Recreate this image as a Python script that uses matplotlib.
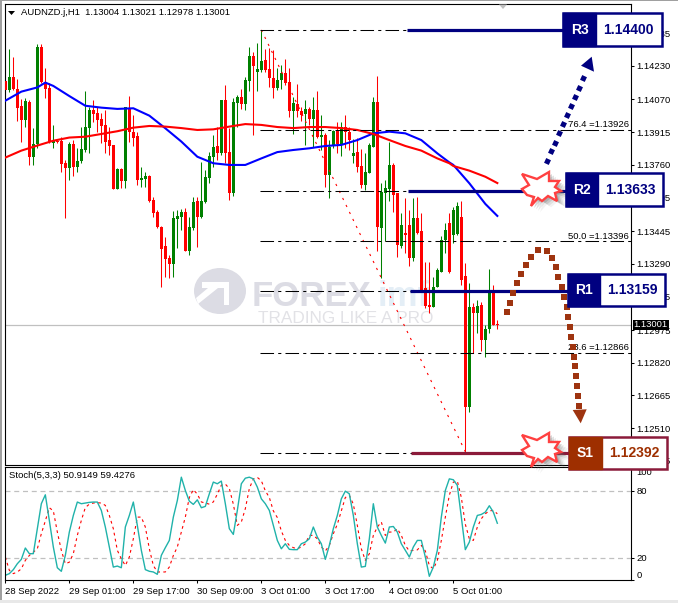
import numpy as np
import matplotlib
matplotlib.use("Agg")
import matplotlib.pyplot as plt
from matplotlib.patches import Rectangle, Polygon, Ellipse

W, H = 678, 603
FONT = "Liberation Sans"
TXT = 6.8

# prices in points (1e-5)
opens = [114157,114115,114175,114118,114039,113972,114059,113798,113858,114320,114151,114123,113865,113874,113874,113770,
         113746,113858,113751,113778,113830,113936,114020,114004,113977,113949,113877,113854,113646,113738,113683,114028,
         113917,113896,113688,113692,113707,113593,113537,113466,113374,113316,113289,113504,113513,113537,113352,113458,
         113588,113510,113585,113699,113798,113849,113814,114067,113822,113627,114055,114083,114048,114157,114276,114202,
         114210,114257,114214,114170,114126,114162,114197,114154,114015,114048,114015,114001,114025,113977,114020,113892,
         113901,113711,113851,113922,113854,113941,113917,113801,113822,113754,113664,113722,113846,114059,113461,113627,
         113645,113759,113627,113374,113434,113474,113319,113506,113447,113173,113094,113086,113181,113252,113403,113482,
         113426,113431,113513,113232,112612,113083,113055,113094,112928,112979,113162,113004]
highs = [114233,114308,114273,114165,114070,114075,114067,113933,114333,114333,114218,114146,113949,113877,113893,113782,
         113870,113877,113838,113941,114110,114033,114067,114036,114004,114020,113941,113854,113743,113743,114036,114088,
         113996,113917,113751,113727,113711,113608,113545,113469,113419,113332,113542,113545,113548,113553,113513,113608,
         113608,113771,113735,113822,113901,113941,114067,114139,113933,114075,114091,114118,114178,114320,114297,114336,
         114400,114308,114313,114305,114218,114233,114260,114218,114083,114143,114036,114067,114036,114080,114112,113996,
         113912,113877,113925,113964,113964,113996,113941,113881,113885,113835,113817,113862,114080,114181,113675,113688,
         113870,113767,113627,113529,113601,113545,113601,113608,113529,113297,113297,113229,113271,113422,113482,113529,
         113561,113585,113588,113292,113197,113102,113118,113110,112999,113265,113189,113021]
lows = [114067,114107,114115,113969,113870,113941,113759,113759,113838,114146,114075,113862,113838,113865,113727,113506,
        113688,113707,113727,113767,113822,113817,113964,113917,113862,113814,113806,113646,113646,113648,113648,113870,
        113851,113664,113656,113656,113585,113513,113458,113181,113229,113224,113229,113363,113450,113352,113332,113450,
        113371,113506,113580,113672,113751,113782,113806,113767,113593,113612,113938,114023,114020,114112,113901,114112,
        114202,114202,114131,114078,114115,114118,114139,113988,113906,113988,113969,113854,113949,113846,113885,113830,
        113656,113604,113838,113814,113803,113838,113830,113767,113727,113648,113640,113719,113846,113349,113221,113396,
        113588,113537,113324,113363,113339,113281,113303,113431,113157,113078,113055,113086,113178,113249,113339,113245,
        113390,113426,113189,112398,112588,112865,112960,112877,112846,112960,112999,112978]
closes = [114115,114178,114118,114031,113972,114063,113798,113858,114320,114151,114118,113870,113877,113870,113763,113746,
          113858,113751,113778,113835,113941,114020,114001,113972,113944,113870,113851,113646,113740,113683,114033,113917,
          113889,113688,113699,113707,113588,113529,113466,113362,113311,113289,113506,113517,113534,113352,113463,113585,
          113513,113588,113703,113801,113846,113814,114067,113817,113627,114059,114080,114048,114162,114276,114229,114213,
          114252,114210,114173,114126,114162,114197,114146,114015,114055,114017,113996,114025,113976,114020,113890,113901,
          113711,113846,113922,113857,113941,113917,113877,113814,113751,113664,113726,113854,114059,113466,113632,113648,
          113759,113616,113379,113474,113425,113319,113506,113438,113165,113089,113086,113181,113260,113403,113450,113252,
          113545,113564,113213,112612,113083,113055,113089,112928,112980,113162,112999,113001]

blue_bars = [0,4,8,10,12,16,20,24,28,32,36,40,44,48,52,56,60,64,68,72,76,80,84,88,92,96,100,104,108,111,112,116,120,123]
blue_ma = [114064,114107,114127,114150,114134,114086,114040,114031,114025,114028,113993,113933,113870,113798,113767,113759,113759,
           113790,113820,113830,113838,113849,113854,113877,113909,113917,113909,113877,113814,113771,113759,113672,113574,113517]
red_bars = [0,4,8,12,16,20,24,28,32,36,40,44,48,52,56,60,64,68,72,76,80,84,88,92,96,100,104,108,111,112,116,120,123]
red_ma = [113794,113827,113851,113874,113889,113893,113906,113919,113936,113944,113941,113934,113925,113928,113941,113953,113949,
          113939,113934,113939,113939,113934,113925,113906,113877,113849,113827,113790,113767,113754,113732,113703,113673]

stoch_main = [4.2,5.7,9.3,14.6,18.5,28.7,23.6,23.6,46,68.4,76.4,53.4,29.6,11,7.8,22.1,43,57.9,69.9,68.4,69,69.6,69.9,69.9,62.4,47.5,
              29.6,11.6,12.5,11,47.5,57.9,69.9,49,26.6,9.3,7.8,7.2,5.1,22.1,29,35.5,56.4,71.3,92.2,80.3,70.7,67.8,71.9,64.8,66,77.3,
              87.8,86.3,88.7,68.4,46,40.9,62.4,86.3,91.3,92.2,90.7,83.3,72.8,68.4,62.4,49,35.5,28,32.5,27.5,27.2,27.2,32.5,34,37,
              47.5,38.5,32.5,18.5,31,46,57.9,72.8,79.7,77.3,57.9,32.5,11.6,12.2,37,68.4,47.5,40,33.1,47.5,48,43,32.5,26.6,20.6,29.6,
              35.5,35.5,20.6,3.3,11.6,26.6,56.4,80.3,90.7,89.9,84.8,56.4,27.2,34,47.5,57.9,58.8,60.9,66.6,60.9,50.9]
stoch_signal = [20.6,8.7,5.7,7.2,10,17.6,22,25,28,41.5,53,64.8,62,43,26.6,14.6,16,23.6,40,53.4,65,68,69,69.3,69,66.9,57.9,46,26.6,
                19,13,20.6,37,56.4,56.4,47.5,28,13,7.2,7.2,7.2,11.6,22,29.6,43,56.4,74,81,77,70,69,68,70,77,85,86,82,68,49,52,64,
                82,90.7,92,89,80,74,62,56,44,35.5,31,29,28,29.6,32.5,40,40,37,29.6,26,31,41.5,50,62,74,76,68,49,28,17.6,23.6,40,47.5,
                52,40,43,43,46,40,31,26,26.6,27,31,26,13,10,17.6,35.5,56.4,76,87.8,88.7,74,50,37,35.5,47.5,55,59.4,62,62.4,59.4]

time_bars = [0,16,32,48,64,80,96,112]
time_labels = ["28 Sep 2022","29 Sep 01:00","29 Sep 17:00","30 Sep 09:00","3 Oct 01:00","3 Oct 17:00","4 Oct 09:00","5 Oct 01:00"]
price_ticks = [1.14385,1.14230,1.14070,1.13915,1.13760,1.13605,1.13445,1.13290,1.13135,1.12975,1.12820,1.12665,1.12510,1.12355]
fib_levels = [1.14400,1.13926,1.13633,1.13396,1.13159,1.12866,1.12392]
fib_names = {1.13926:"76.4 =1.13926", 1.13396:"50.0 =1.13396", 1.12866:"23.6 =1.12866"}
stoch_ticks = [0,20,80,100]


def px_axes(left, top, right, bottom, **kw):
    return fig.add_axes([left/W, 1-bottom/H, (right-left)/W, (bottom-top)/H], **kw)


plt.rcParams["font.family"] = FONT
fig = plt.figure(figsize=(W/100, H/100), dpi=100, facecolor="white")

# pixel layers under and over the chart
under = fig.add_axes([0, 0, 1, 1], zorder=0)
over = fig.add_axes([0, 0, 1, 1], zorder=5)
for a in (under, over):
    a.set_xlim(0, W)
    a.set_ylim(H, 0)
    a.axis("off")
    a.patch.set_alpha(0)

# window edges
under.add_patch(Rectangle((0, 0), 2, H, color="#a0a0a0", lw=0))
under.add_patch(Rectangle((0, 0), W, 1, color="#a0a0a0", lw=0))
under.add_patch(Rectangle((0, 600), W, 3, color="#e8e8e8", lw=0))

# watermark
wm = "#dcdce4"
under.add_patch(Ellipse((220, 291), 52, 46, color=wm, lw=0))
under.add_patch(Polygon([(202, 282), (229, 282), (229, 305), (224, 305), (224, 288), (218, 288), (198, 304), (196, 298), (208, 288), (202, 288)], color="white", lw=0))
under.text(252, 306.5, "FOREX", fontsize=25, fontweight="bold", color=wm, va="baseline")
under.text(378, 306.5, "imf", fontsize=25, fontweight="bold", color="#e4eef6", va="baseline")
under.text(258, 323, "TRADING LIKE A PRO", fontsize=12.4, color="#e2e2e6", va="baseline")

# main chart
ax = px_axes(4.5, 4, 630.7, 464.5, zorder=1)
ax.patch.set_alpha(0)
bars = np.arange(len(opens))
o = np.array(opens)/1e5
h = np.array(highs)/1e5
l = np.array(lows)/1e5
c = np.array(closes)/1e5
cols = ["#ff0000" if a > b else "#008000" for a, b in zip(o, c)]
ax.vlines(bars, l, h, colors=cols, lw=0.75, zorder=2)
ax.bar(bars, np.maximum(np.abs(c-o), 0.00003), bottom=np.minimum(o, c), width=0.72, color=cols, lw=0, zorder=3)
ax.plot(blue_bars, np.array(blue_ma)/1e5, color="#0000ff", lw=1.5, zorder=4)
ax.plot(red_bars, np.array(red_ma)/1e5, color="#ff0000", lw=1.5, zorder=4)

# fibo
fib_start, fib_end = 64, 115
ax.plot([fib_start, fib_end], [h[fib_start], l[fib_end]], color="#ff0000", lw=0.8, ls=(0, (2, 5)), zorder=3)
ax.hlines(fib_levels, fib_start-0.3, 156.4, colors="black", lw=0.75, ls=(0, (13, 4, 3, 4)), zorder=5)
for lev, name in fib_names.items():
    ax.text(155.9, lev+0.00004, name, ha="right", va="bottom", fontsize=TXT, color="black", zorder=5)

ax.axhline(c[-1], color="#c0c0c0", lw=0.9, zorder=1)
ax.set_xlim((4.5-5.33)/4, (630.7-5.33)/4)
ax.set_ylim(1.12337, 1.14523)
ax.set_xticks([])
ax.yaxis.tick_right()
ax.set_yticks(price_ticks)
ax.set_yticklabels([f"{t:.5f}" for t in price_ticks])
ax.tick_params(axis="y", length=2.5, width=0.75, pad=1.5, labelsize=TXT)

# stochastic
sub = px_axes(4.5, 466.7, 630.7, 580, zorder=1)
sub.patch.set_alpha(0)
sub.axhline(20, color="#c0c0c0", lw=0.9, ls=(0, (4, 3)))
sub.axhline(80, color="#c0c0c0", lw=0.9, ls=(0, (4, 3)))
sub.plot(bars, stoch_signal, color="#ff0000", lw=0.8, ls=(0, (2.5, 3)))
sub.plot(bars, stoch_main, color="#20b2aa", lw=1.0)
sub.set_xlim(ax.get_xlim())
sub.set_ylim(0, 101.6)
sub.yaxis.tick_right()
sub.set_yticks(stoch_ticks)
sub.set_yticklabels([str(t) for t in stoch_ticks])
sub.tick_params(axis="y", length=2.5, width=0.75, pad=1.5, labelsize=TXT)
for lab, t in zip(sub.get_yticklabels(), stoch_ticks):
    if t == 0:
        lab.set_verticalalignment("bottom")
    if t == 100:
        lab.set_verticalalignment("top")
sub.set_xticks(time_bars)
sub.set_xticklabels(time_labels, ha="left")
sub.tick_params(axis="x", length=2.5, width=0.75, pad=2.5, labelsize=TXT)
for a in (ax, sub):
    for s in a.spines.values():
        s.set_linewidth(0.8)

# headers
over.add_patch(Polygon([(8, 11), (15, 11), (11.5, 15)], color="black", lw=0))
over.text(21, 12.7, "AUDNZD.j,H1  1.13004 1.13021 1.12978 1.13001", fontsize=TXT, va="center", color="black")
over.text(9, 475.7, "Stoch(5,3,3) 50.9149 59.4276", fontsize=TXT, va="center", color="black")
over.add_patch(Polygon([(499, 4.5), (507, 4.5), (503, 9)], color="#c0c0c0", lw=0))

# current price tag
over.add_patch(Rectangle((632.7, 320), 36.3, 9.5, color="black", lw=0))
over.text(650.8, 324.7, "1.13001", fontsize=TXT, color="white", ha="center", va="center")

navy = "#000080"
brown = "#9e2f00"
maroon = "#8b1a3a"

# support and resistance lines, drawn on the price axes
ax.hlines([1.14400, 1.13633, 1.13159], [100.3, 100.6, 101.1], [139.5, 140.2, 140.6], colors=navy, lw=2.3, zorder=6)
ax.hlines([1.12392], [101.5], [141], colors=maroon, lw=2.3, zorder=6)

star = [(-19,-15),(-4,-10),(8,-17),(8,-8),(18,-8),(14,-2),(20,2),(14,4),(16,12),(7,7),(1,12),(-3,9),(-10,17),(-7,8),(-14,6),(-19,0),(-12,-4)]
for cx, cy in ((541, 189), (541, 450)):
    for off, al in ((9, 0.08), (7, 0.12), (5, 0.18), (3, 0.25)):
        over.add_patch(Polygon([(cx+x+off, cy+y+off*0.7) for x, y in star], color="#606060", alpha=al, lw=0))
    over.add_patch(Polygon([(cx+x, cy+y) for x, y in star], fc="white", ec="#ff4040", lw=1.7))

boxes = [("R3", "1.14400", 563.3, 596, 661.7, 13.3, 46, navy, navy, navy),
         ("R2", "1.13633", 566, 598, 662.7, 173.3, 206, navy, navy, navy),
         ("R1", "1.13159", 567.7, 600, 665, 274, 306, navy, navy, navy),
         ("S1", "1.12392", 569.3, 601.7, 667.3, 436.7, 469, brown, maroon, brown)]
for name, val, x0, xm, x1, y0, y1, fill, edge, tcol in boxes:
    over.add_patch(Rectangle((x0, y0), x1-x0, y1-y0, fc="white", ec=edge, lw=1.8, zorder=3))
    over.add_patch(Rectangle((x0, y0), xm-x0, y1-y0, fc=fill, ec=fill, lw=1, zorder=3))
    over.text((x0+xm)/2, (y0+y1)/2, name, color="white", fontweight="bold", fontsize=10, ha="center", va="center", zorder=4)
    over.text((xm+x1)/2, (y0+y1)/2, val, color=tcol, fontweight="bold", fontsize=10, ha="center", va="center", zorder=4)

# forecast arrows
up_x = [547.3,551.3,555,559,563.3,567,571.3,575,579.3,583.3]
up_y = [160.7,151.3,142.7,133.3,124,115,106,97,87.7,78.3]
over.scatter(up_x, up_y, marker=(4, 0, 20), s=28, color=navy, lw=0, zorder=3)
over.add_patch(Polygon([(591.7, 56.7), (581, 65.7), (594, 71.7)], color=navy, lw=0, zorder=3))
dn_x = [506.7,510,513.3,517.3,521,525.7,531,537.7,546.7,551.7,556,558.3,561.7,564,566.7,568.3,570,571,572.7,574,575,576,577.3,578.3,579.3]
dn_y = [311.7,302.7,292.7,283.3,274,265.3,256.7,250,250.7,258.3,267.3,276.7,287.3,296.7,306.7,316.7,326.7,336.7,346.7,356.7,366,376,386,396,406]
over.scatter(dn_x, dn_y, marker=(4, 0, 45), s=28, color="#9e3410", lw=0, zorder=2)
over.add_patch(Polygon([(572.7, 410), (586.7, 409.3), (580.7, 423.3)], color="#9e3410", lw=0, zorder=2))

fig.savefig("out.png", dpi=100)
